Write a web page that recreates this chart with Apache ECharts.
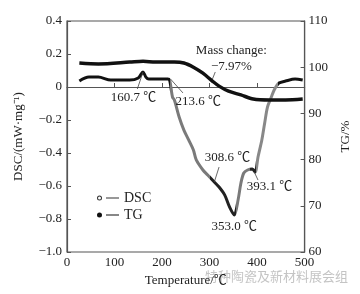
<!DOCTYPE html>
<html>
<head>
<meta charset="utf-8">
<script src="https://cdn.jsdelivr.net/npm/echarts@6/dist/echarts.min.js"></script>
<style>
html, body { margin: 0; padding: 0; background: #fff; }
#chart-0 { width: 360px; height: 294px; }
</style>
</head>
<body>
<div id="chart-0"></div>
<script>
// DSC curve (left axis)
var dscTemp = [26, 46, 66, 92, 132, 150, 160, 166, 172, 212, 216, 222, 226, 236, 246, 256, 266, 272, 286, 296, 310, 320, 332, 342, 352, 360, 366, 372, 380, 390, 396, 402, 410, 416, 422, 430, 436, 446, 460, 480, 496];
var dscVal = [0.036, 0.06, 0.06, 0.042, 0.042, 0.055, 0.091, 0.06, 0.048, 0.048, 0.042, -0.061, -0.079, -0.182, -0.261, -0.321, -0.382, -0.442, -0.503, -0.533, -0.576, -0.606, -0.655, -0.727, -0.776, -0.685, -0.582, -0.521, -0.503, -0.497, -0.515, -0.424, -0.321, -0.218, -0.121, -0.061, -0.018, 0.024, 0.036, 0.048, 0.042];
// TG curve (right axis)
var tgTemp = [26, 66, 132, 160, 186, 226, 246, 266, 286, 306, 320, 340, 366, 392, 426, 460, 496];
var tgVal = [100.9, 100.7, 101.1, 101.3, 101.1, 101.1, 100.9, 100.0, 98.7, 97.0, 95.9, 94.8, 94.0, 93.1, 92.9, 92.9, 93.1];

// annotations: text, anchor [temp, dsc]
var noteText = ['160.7 ℃', '213.6 ℃', '308.6 ℃', '353.0 ℃', '393.1 ℃', 'Mass change:', '−7.97%'];
var notePos = [[140, -0.067], [276, -0.091], [338, -0.43], [352, -0.848], [426, -0.606], [346, 0.218], [346, 0.121]];
var leaders = [
    [[160, 0.091], [148, -0.012]],
    [[218, 0.048], [244, -0.036]],
    [[310, -0.576], [320, -0.485]],
    [[394, -0.515], [402, -0.564]],
    [[312, 0.091], [306, 0.048]]
];

var font = '"Liberation Serif", "Noto Sans CJK SC", serif';
var chart = echarts.init(document.getElementById('chart-0'));

function zip(a, b) {
    var out = [];
    for (var i = 0; i < a.length; i++) out.push([a[i], b[i]]);
    return out;
}

var marks = [];
for (var i = 0; i < noteText.length; i++) {
    marks.push({ name: noteText[i], coord: notePos[i] });
}
var lines = [];
for (var i = 0; i < leaders.length; i++) {
    lines.push([{ coord: leaders[i][0] }, { coord: leaders[i][1] }]);
}

var ringIcon = 'path://M2.5,0.5a2.5,2.5 0 1,1 0,5a2.5,2.5 0 1,1 0,-5Z M2.5,1.5a1.5,1.5 0 1,0 0,3a1.5,1.5 0 1,0 0,-3Z M9,2.4h13v1.2h-13Z';
var dotIcon = 'path://M2.5,0.5a2.5,2.5 0 1,1 0,5a2.5,2.5 0 1,1 0,-5Z M9,2.4h13v1.2h-13Z';

var option = {
    animation: false,
    backgroundColor: '#fff',
    textStyle: { fontFamily: font },
    grid: { left: 67, right: 42, top: 21, bottom: 42, show: true, borderColor: '#555', borderWidth: 1.2 },
    legend: {
        left: 92,
        top: 186,
        orient: 'vertical',
        itemWidth: 22,
        itemHeight: 6,
        itemGap: 3,
        textStyle: { fontSize: 14, color: '#222', lineHeight: 14, fontFamily: font },
        data: [
            { name: 'DSC', icon: ringIcon, itemStyle: { color: '#333' } },
            { name: 'TG', icon: dotIcon, itemStyle: { color: '#111' } }
        ]
    },
    visualMap: {
        show: false,
        type: 'piecewise',
        seriesIndex: 0,
        dimension: 0,
        pieces: [
            { lt: 216, color: '#111' },
            { gte: 216, lt: 300, color: '#7a7a7a' },
            { gte: 300, lt: 355, color: '#222' },
            { gte: 355, lt: 385, color: '#7a7a7a' },
            { gte: 385, lt: 398, color: '#222' },
            { gte: 398, lt: 445, color: '#888' },
            { gte: 445, color: '#111' }
        ]
    },
    xAxis: {
        type: 'value',
        min: 0,
        max: 500,
        interval: 100,
        name: 'Temperature/℃',
        nameLocation: 'middle',
        nameGap: 18,
        nameTextStyle: { fontSize: 13, color: '#222', fontFamily: font },
        axisLine: { lineStyle: { color: '#555', width: 1.2 } },
        axisTick: { inside: true, length: 4, lineStyle: { color: '#555' } },
        axisLabel: { fontSize: 13, color: '#222', margin: 4, fontFamily: font },
        splitLine: { show: false }
    },
    yAxis: [{
        type: 'value',
        min: -1.0,
        max: 0.4,
        interval: 0.2,
        name: 'DSC/(mW·mg⁻¹)',
        nameLocation: 'middle',
        nameRotate: 90,
        nameGap: 42,
        nameTextStyle: { fontSize: 13, color: '#222', fontFamily: font },
        axisLine: { show: true, lineStyle: { color: '#555', width: 1.2 } },
        axisTick: { show: true, inside: true, length: 4, lineStyle: { color: '#555' } },
        axisLabel: {
            fontSize: 13, color: '#222', margin: 5, fontFamily: font,
            formatter: function(v) {
                if (Math.abs(v) < 1e-9) return '0';
                return v.toFixed(1).replace('-', '−');
            }
        },
        splitLine: { show: false }
    }, {
        type: 'value',
        min: 60,
        max: 110,
        interval: 10,
        position: 'right',
        name: 'TG/%',
        nameLocation: 'middle',
        nameRotate: 90,
        nameGap: 28,
        nameTextStyle: { fontSize: 13, color: '#222', fontFamily: font },
        axisLine: { show: true, lineStyle: { color: '#555', width: 1.2 } },
        axisTick: { show: true, inside: true, length: 4, lineStyle: { color: '#555' } },
        axisLabel: { fontSize: 13, color: '#222', margin: 4, fontFamily: font },
        splitLine: { show: false }
    }],
    series: [{
        name: 'DSC',
        type: 'line',
        yAxisIndex: 0,
        showSymbol: false,
        smooth: 0.3,
        data: zip(dscTemp, dscVal),
        lineStyle: { width: 3 },
        itemStyle: { color: '#333' },
        markPoint: {
            symbol: 'circle',
            symbolSize: 1,
            silent: true,
            itemStyle: { color: 'rgba(0,0,0,0)' },
            label: {
                show: true,
                position: 'inside',
                formatter: '{b}',
                fontSize: 13,
                color: '#222',
                fontFamily: font
            },
            data: marks
        },
        markLine: {
            symbol: ['none', 'none'],
            silent: true,
            label: { show: false },
            lineStyle: { color: '#444', width: 0.8, type: 'solid' },
            data: lines
        }
    }, {
        name: 'TG',
        type: 'line',
        yAxisIndex: 1,
        showSymbol: false,
        smooth: 0.3,
        data: zip(tgTemp, tgVal),
        lineStyle: { width: 3.5, color: '#111' },
        itemStyle: { color: '#111' }
    }],
    graphic: [{
        type: 'text',
        left: 205,
        top: 270,
        style: { text: '特种陶瓷及新材料展会组', fill: '#c4c4c4', font: '13px "Noto Sans CJK SC"' }
    }]
};
chart.setOption(option);
</script>
</body>
</html>
